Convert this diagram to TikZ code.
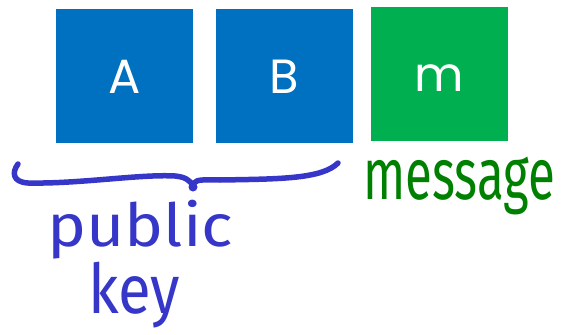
\documentclass[tikz,border=0pt]{standalone}
\usepackage{fontspec}
\usepackage{graphicx}
\newfontfamily\boxfont{Poppins}
\newfontfamily\handfont{Fira Sans}
\definecolor{boxblue}{RGB}{0,112,192}
\definecolor{boxgreen}{RGB}{0,176,80}
\definecolor{inkblue}{RGB}{54,54,200}
\definecolor{inkgreen}{RGB}{0,128,0}
\tikzset{
  sq/.style={fill=#1, draw=none, minimum width=137pt, minimum height=134pt, inner sep=0pt,
    text=white, font=\boxfont\fontsize{48}{48}\selectfont, text height=36pt, text depth=0pt},
  ink/.style={draw=inkblue, line width=5.5pt, line cap=round, line join=round},
  hand/.style={inner sep=0pt, anchor=north west, text=#1, font=\handfont}
}
\begin{document}
\begin{tikzpicture}[x=1pt,y=-1pt]
\useasboundingbox (0,0) rectangle (561,334);
\node[sq=boxblue] (A) at (124.5,76) {A};
\node[sq=boxblue] (B) at (284.5,76) {B};
\node[sq=boxgreen] (m) at (439.5,74) {m};
% hand-drawn brace under A and B
\draw[ink] (18,164) .. controls (12,172) and (12,182) .. (28,183)
  .. controls (80,184) and (140,174) .. (175,176)
  .. controls (185,177) and (190,180) .. (193,186);
\draw[ink] (194,183) .. controls (197,179) and (205,180) .. (220,180)
  .. controls (280,179) and (322,179) .. (338,163);
\fill[inkblue] (193,187) circle (4.5pt);
\node[hand=inkblue] (pub) at (47,200) {\resizebox*{186pt}{59pt}{public}};
\node[hand=inkblue] (key) at (88,262) {\resizebox*{92pt}{66pt}{key}};
\node[hand=inkgreen] (msg) at (363,157) {\resizebox*{192pt}{58pt}{message}};
\end{tikzpicture}
\end{document}
